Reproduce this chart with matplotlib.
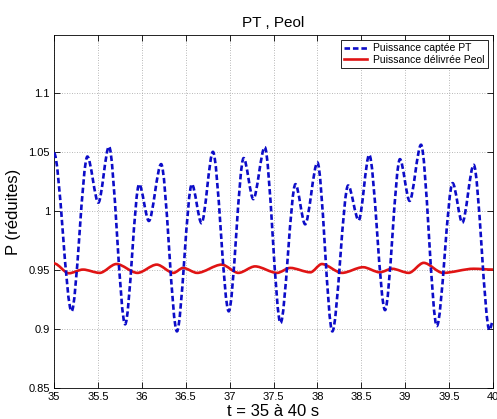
import matplotlib
matplotlib.use("Agg")
import matplotlib.pyplot as plt
from matplotlib.path import Path
from matplotlib.patches import PathPatch
from matplotlib.lines import Line2D

# ---- data (local extrema of each curve) ----
pt_t = [35.0, 35.2, 35.38, 35.505, 35.626, 35.81, 35.97, 36.08, 36.22, 36.40,
        36.57, 36.68, 36.81, 36.99, 37.16, 37.27, 37.40, 37.58, 37.75, 37.86,
        38.0, 38.17, 38.35, 38.47, 38.59, 38.77, 38.94, 39.05, 39.18, 39.36,
        39.54, 39.65, 39.78, 39.96, 40.0]
pt_v = [1.049, 0.915, 1.046, 1.007, 1.0545, 0.904, 1.0226, 0.9915, 1.0396, 0.898,
        1.0226, 0.9896, 1.050, 0.915, 1.0447, 1.010, 1.054, 0.905, 1.0226, 0.9887,
        1.041, 0.898, 1.0215, 0.992, 1.0475, 0.916, 1.0438, 1.0085, 1.056, 0.9025,
        1.0235, 0.990, 1.039, 0.899, 0.907]

peol_t = [35.0, 35.17, 35.33, 35.52, 35.71, 35.95, 36.17, 36.36, 36.47, 36.63,
          36.91, 37.10, 37.29, 37.54, 37.69, 37.92, 38.05, 38.28, 38.52, 38.71,
          38.85, 39.04, 39.21, 39.43, 39.78, 40.0]
peol_v = [0.9555, 0.9472, 0.9503, 0.9475, 0.955, 0.9475, 0.9545, 0.9475, 0.9517, 0.9475,
          0.9545, 0.9475, 0.953, 0.9475, 0.9517, 0.948, 0.955, 0.9475, 0.9523, 0.948,
          0.951, 0.9475, 0.956, 0.9475, 0.951, 0.9503]

x_ticks = [35, 35.5, 36, 36.5, 37, 37.5, 38, 38.5, 39, 39.5, 40]
x_labels = ["35", "35.5", "36", "36.5", "37", "37.5", "38", "38.5", "39", "39.5", "40"]
y_ticks = [0.85, 0.9, 0.95, 1.0, 1.05, 1.1]
y_labels = ["0.85", "0.9", "0.95", "1", "1.05", "1.1"]

title = "PT , Peol"
xlabel = "t = 35 à 40 s"
ylabel = "P (réduites)"
legend_labels = ["Puissance captée PT", "Puissance délivrée Peol"]


def smooth_path(ts, vs, k=0.31):
    """Cubic Bezier path through extrema with horizontal tangents."""
    verts = [(ts[0], vs[0])]
    codes = [Path.MOVETO]
    for i in range(len(ts) - 1):
        d = ts[i + 1] - ts[i]
        verts += [(ts[i] + k * d, vs[i]), (ts[i + 1] - k * d, vs[i + 1]),
                  (ts[i + 1], vs[i + 1])]
        codes += [Path.CURVE4] * 3
    return Path(verts, codes)


plt.rcParams['font.family'] = ['Liberation Sans', 'DejaVu Sans']

fig = plt.figure(figsize=(4.97, 4.19), dpi=100)
ax = fig.add_axes([0.1087, 0.074, 0.8833, 0.8425])

blue = '#0c0cc8'
red = '#e01414'
dash = (0, (2.1, 1.1))

ax.add_patch(PathPatch(smooth_path(peol_t, peol_v), fill=False, edgecolor=red,
                       linewidth=1.9, zorder=3))
ax.add_patch(PathPatch(smooth_path(pt_t, pt_v), fill=False, edgecolor=blue,
                       linewidth=1.9, linestyle=dash, zorder=4))

ax.set_xlim(35, 40)
ax.set_ylim(0.85, 1.149)
ax.set_xticks(x_ticks)
ax.set_xticklabels(x_labels)
ax.set_yticks(y_ticks)
ax.set_yticklabels(y_labels)
ax.tick_params(direction='in', length=4, width=0.6, labelsize=8,
               top=True, right=True, pad=3)
for s in ax.spines.values():
    s.set_linewidth(0.6)

ax.grid(True, linestyle=(0, (1, 2)), color='#a0a0a0', linewidth=0.6)
ax.set_axisbelow(True)

ax.set_title(title, fontsize=11, pad=6)
ax.set_xlabel(xlabel, fontsize=12, labelpad=1)
ax.set_ylabel(ylabel, fontsize=12, labelpad=5)

handles = [Line2D([], [], color=blue, linewidth=1.9, linestyle=dash),
           Line2D([], [], color=red, linewidth=1.9)]
leg = ax.legend(handles, legend_labels, loc='upper right', fontsize=7.5,
                fancybox=False, framealpha=1, edgecolor='black',
                borderaxespad=0.5, handlelength=2.2, handletextpad=0.6,
                borderpad=0.3, labelspacing=0.15)
leg.get_frame().set_linewidth(0.6)

fig.savefig("out.png", dpi=100)
